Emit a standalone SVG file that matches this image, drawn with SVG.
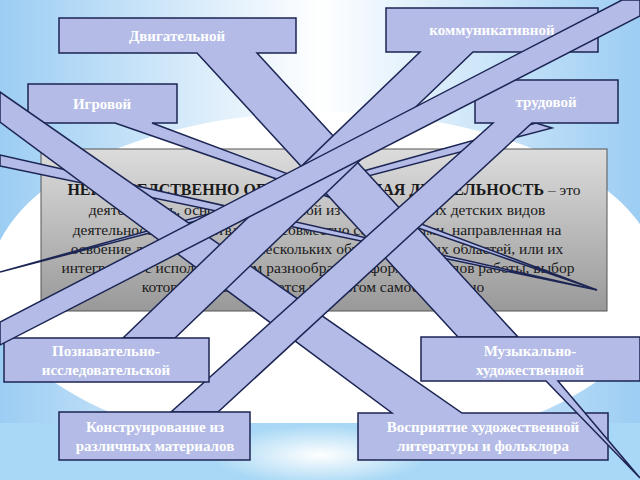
<svg xmlns="http://www.w3.org/2000/svg" width="640" height="480" viewBox="0 0 640 480">
<defs>
<linearGradient id="bg" x1="0" y1="0" x2="1" y2="0">
<stop offset="0" stop-color="#9ccdf3"/><stop offset="0.5" stop-color="#ffffff"/><stop offset="1" stop-color="#9ccdf3"/>
</linearGradient>
<linearGradient id="gray" x1="0" y1="0" x2="0" y2="1">
<stop offset="0" stop-color="#dcdcdc"/><stop offset="1" stop-color="#999999"/>
</linearGradient>
<radialGradient id="glow" cx="0.5" cy="0.5" r="0.5">
<stop offset="0" stop-color="#ffffff"/><stop offset="1" stop-color="#ffffff" stop-opacity="0"/>
</radialGradient>
<style>
.c{fill:#b3bbe6;stroke:#1c2553;stroke-width:1.5;stroke-linejoin:miter}
.t{font-family:"Liberation Serif",serif;font-weight:bold;font-size:15px;fill:#ffffff;text-anchor:middle}
.m{font-family:"Liberation Serif",serif;font-size:15.5px;fill:#1a1a1a;text-anchor:middle}
</style>
</defs>
<rect width="640" height="480" fill="url(#bg)"/>
<ellipse cx="325" cy="282" rx="335" ry="170" fill="#ffffff"/>
<rect x="0" y="423" width="640" height="57" fill="#a8d8f5"/>
<ellipse cx="320" cy="455" rx="110" ry="30" fill="url(#glow)"/>
<g id="main">
<rect x="41" y="149" width="566" height="162" fill="url(#gray)" stroke="#555" stroke-width="1"/>
<text class="m" x="324" y="195"><tspan font-weight="bold" font-size="16px">НЕПОСРЕДСТВЕННО ОБРАЗОВАТЕЛЬНАЯ ДЕЯТЕЛЬНОСТЬ</tspan> – это</text>
<text class="m" x="317" y="215">деятельность, основанная на одной из специфических детских видов</text>
<text class="m" x="317" y="235">деятельности, осуществляемая совместно со взрослыми, направленная на</text>
<text class="m" x="317" y="254">освоение детьми одной или нескольких образовательных областей, или их</text>
<text class="m" x="318" y="273">интеграцию с использованием разнообразных форм и методов работы, выбор</text>
<text class="m" x="313" y="292">которых осуществляется педагогом самостоятельно</text>
</g>
<g id="connectors">
<polygon class="c" points="0,155 0,166 597,290"/>
<polygon class="c" points="0,272 536,123 552,128"/>
</g>
<g id="igrovoy"><path class="c" d="M28,84 H177 V123 H152 L597,290 L115,123 H28 Z"/><text class="t" x="102" y="109">Игровой</text></g>
<g id="vospriyatie"><path class="c" d="M358,413 H392 L0,122 L0,92 L462,413 H608 V460 H358 Z"/><text class="t" x="483" y="432">Восприятие художественной</text><text class="t" x="483" y="451">литературы и фольклора</text></g>
<g id="dvigatelnoy"><path class="c" d="M59,18 H296 V53 H257 L518,337 L458,337 L197,53 H59 Z"/><text class="t" x="177" y="41">Двигательной</text></g>
<g id="kommunikativnoy"><path class="c" d="M386,8 H598 V52 H473 L175,338 L123,338 L420,52 H386 Z"/><text class="t" x="492" y="35">коммуникативной</text></g>
<g id="trudovoy"><path class="c" d="M475,80 H618 V123 H532 L218,412 L171,412 L493,123 H475 Z"/><text class="t" x="546" y="107">трудовой</text></g>
<g id="muzykalno"><path class="c" d="M421,337 H640 V381 H558 L640,478 L546,381 H421 Z"/><text class="t" x="530" y="356">Музыкально-</text><text class="t" x="530" y="375">художественной</text></g>
<g id="poznavatelno"><rect class="c" x="4" y="338" width="205" height="44"/><text class="t" x="106" y="356">Познавательно-</text><text class="t" x="106" y="375">исследовательской</text></g>
<g id="konstruirovanie"><rect class="c" x="59" y="412" width="191" height="48"/><text class="t" x="155" y="432">Конструирование из</text><text class="t" x="155" y="451">различных материалов</text></g>
<g id="band"><polygon class="c" points="622,0 640,0 640,16 0,345 0,322"/></g>
</svg>
